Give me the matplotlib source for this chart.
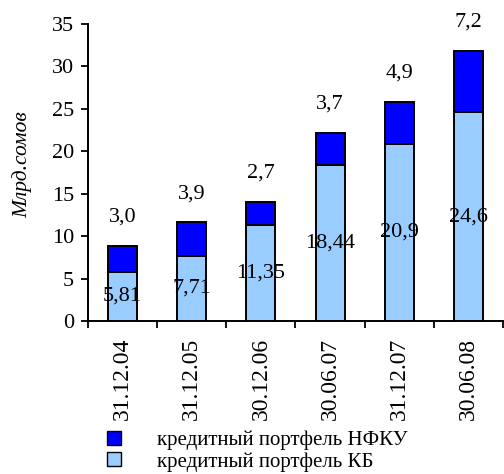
import matplotlib
matplotlib.use("Agg")
import matplotlib.pyplot as plt
from matplotlib.patches import Patch

plt.rcParams['font.family'] = ['Liberation Serif', 'DejaVu Serif']

# data
dates = ['31.12.04', '31.12.05', '30.12.06', '30.06.07', '31.12.07', '30.06.08']
kb = [5.81, 7.71, 11.35, 18.44, 20.9, 24.6]      # кредитный портфель КБ
nfku = [3.0, 3.9, 2.7, 3.7, 4.9, 7.2]            # кредитный портфель НФКУ

col_kb = '#99CCFF'
col_nfku = '#0000FF'
fs = 15.5

fig = plt.figure(figsize=(5.04, 4.74), dpi=100)
ax = fig.add_axes([88/504, 1-321/474, 415/504, 297/474])

x = list(range(len(dates)))
ax.bar(x, kb, width=0.42, color=col_kb, edgecolor='black', linewidth=1.4)
ax.bar(x, nfku, width=0.42, bottom=kb, color=col_nfku, edgecolor='black', linewidth=1.4)

# value labels
for i in x:
    ax.text(i, kb[i] / 2, str(kb[i]).replace('.', ','), ha='center', va='center', fontsize=16)
    ax.text(i, kb[i] + nfku[i] + 3.4, f"{nfku[i]:.1f}".replace('.', ','),
            ha='center', va='center', fontsize=16)

ax.set_xlim(-0.5, len(dates) - 0.5)
ax.set_ylim(0, 35)
ax.set_yticks(range(0, 36, 5))
ax.tick_params(axis='y', labelsize=16, length=5, width=1.3, pad=5)

ax.set_xticks(x)
ax.set_xticklabels(dates, rotation=90, fontsize=17)
ax.set_xticks([i - 0.5 for i in range(len(dates) + 1)], minor=True)
ax.tick_params(axis='x', which='major', length=0, pad=12)
ax.tick_params(axis='x', which='minor', length=5, width=1.3)

for s in ['top', 'right']:
    ax.spines[s].set_visible(False)
for s in ['left', 'bottom']:
    ax.spines[s].set_linewidth(1.4)

fig.text(22/504, 1-165/474, 'Млрд.сомов', rotation=90, ha='center', va='center',
         fontsize=fs, style='italic')

handles = [Patch(facecolor=col_nfku, edgecolor='black'),
           Patch(facecolor=col_kb, edgecolor='black')]
fig.legend(handles, ['кредитный портфель НФКУ', 'кредитный портфель КБ'],
           loc='center left', bbox_to_anchor=(107/504, 1-451/474), frameon=False,
           fontsize=15, handlelength=0.65, handleheight=0.65, handletextpad=1.75,
           labelspacing=0.1, borderpad=0, borderaxespad=0)

fig.savefig('out.png', dpi=100)
